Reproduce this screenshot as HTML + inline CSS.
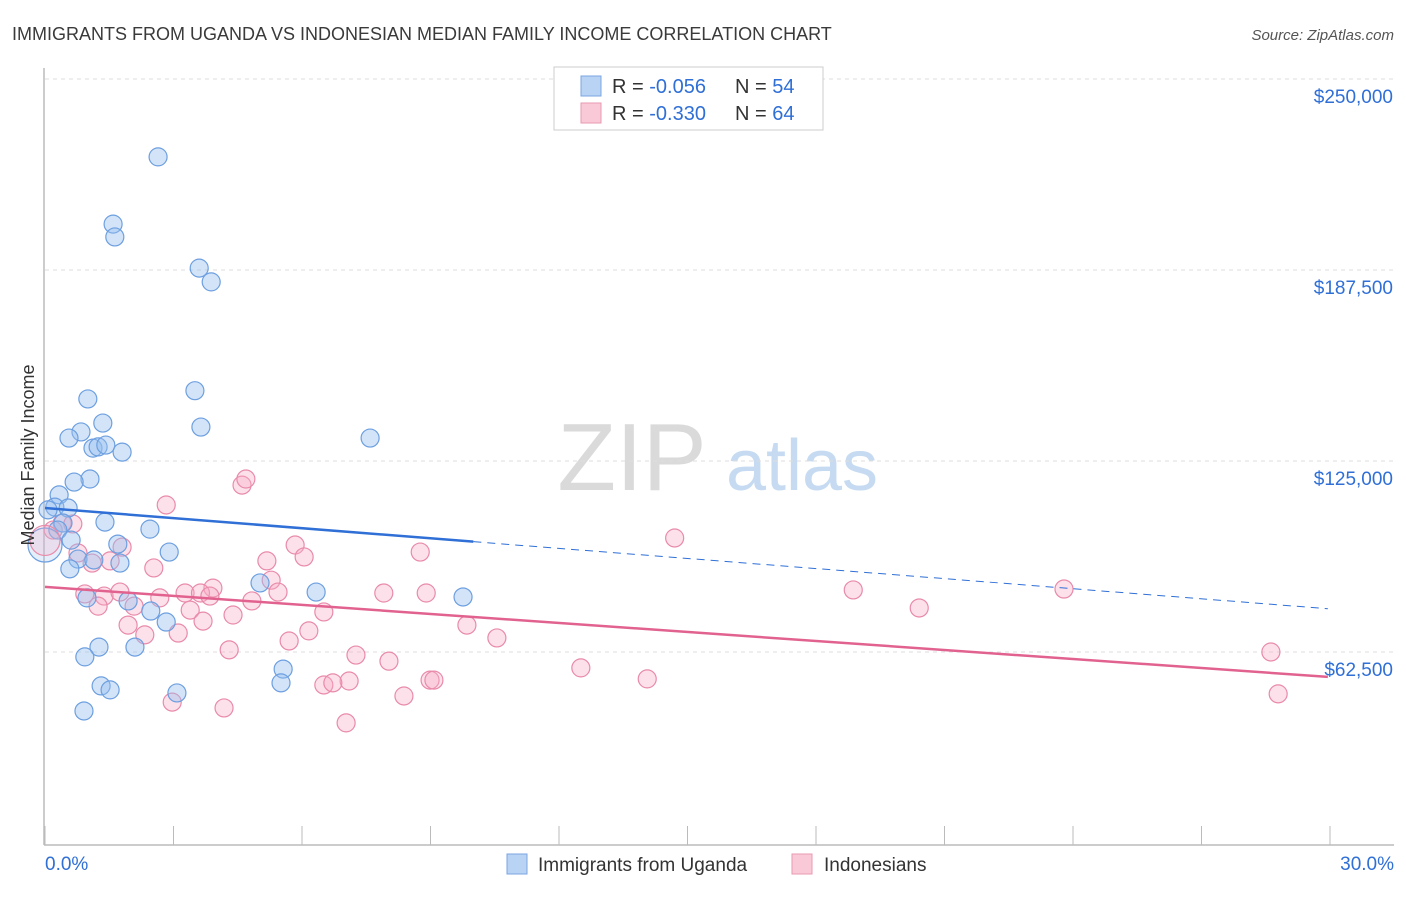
<!DOCTYPE html>
<html><head><meta charset="utf-8"><style>
body{margin:0;background:#fff;font-family:"Liberation Sans",sans-serif;}
svg text{font-family:"Liberation Sans",sans-serif;}
</style></head><body>
<svg id="chart" width="1406" height="892" viewBox="0 0 1406 892">
<text x="12" y="40" font-size="18" fill="#3a3a3a">IMMIGRANTS FROM UGANDA VS INDONESIAN MEDIAN FAMILY INCOME CORRELATION CHART</text>
<text x="1394" y="40" font-size="15" fill="#555" text-anchor="end" font-style="italic">Source: ZipAtlas.com</text>
<g>
<text x="632" y="490" font-size="96" fill="#dadada" text-anchor="middle" font-family="Liberation Serif, serif">ZIP</text>
<text x="802" y="490" font-size="72" fill="#c6dbf1" text-anchor="middle">atlas</text>
</g>
<g id="grid"></g>
<g id="axes"></g>
<g id="points"></g>
<g id="lines"></g>
<text transform="translate(34,455) rotate(-90)" font-size="18" fill="#333" text-anchor="middle">Median Family Income</text>
<g>
<rect x="554" y="67" width="269" height="63" fill="#fff" stroke="#ccc"/>
<rect x="581" y="76" width="20" height="20" fill="#b9d3f5" stroke="#7aa6e0"/>
<text x="612" y="93" font-size="20" fill="#333">R = <tspan fill="#2f6fd6">-0.056</tspan></text>
<text x="735" y="93" font-size="20" fill="#333">N = <tspan fill="#2f6fd6">54</tspan></text>
<rect x="581" y="103" width="20" height="20" fill="#f9c9d7" stroke="#e89ab2"/>
<text x="612" y="120" font-size="20" fill="#333">R = <tspan fill="#2f6fd6">-0.330</tspan></text>
<text x="735" y="120" font-size="20" fill="#333">N = <tspan fill="#2f6fd6">64</tspan></text>
</g>
<g>
<rect x="507" y="854" width="20" height="20" fill="#b9d3f5" stroke="#7aa6e0"/>
<text x="538" y="871" font-size="19" fill="#333">Immigrants from Uganda</text>
<rect x="792" y="854" width="20" height="20" fill="#f9c9d7" stroke="#e89ab2"/>
<text x="824" y="871" font-size="19" fill="#333">Indonesians</text>
</g>
</svg>
<script>
const yTicks=[62500,125000,187500,250000];
const yTickLabels=["$62,500","$125,000","$187,500","$250,000"];
const xTickCount=[0,3,6,9,12,15,18,21,24,27,30];
const xEndLabels=["0.0%","30.0%"];
const blueX=[2.64,1.59,1.63,3.60,3.88,3.50,1.00,3.64,1.35,0.84,0.56,7.59,1.12,1.24,1.42,1.80,1.05,0.68,0.33,0.23,0.07,0.54,0.42,1.40,2.45,0.30,0.61,1.70,2.90,0.77,1.14,1.75,0.58,5.02,6.33,9.76,0.98,1.94,2.47,2.83,1.26,2.10,0.93,5.56,1.31,1.52,3.08,5.51,0.91];
const blueY=[224.5,202.5,198.3,188.1,183.6,148.0,145.3,136.1,137.4,134.5,132.5,132.5,129.2,129.6,130.2,127.9,119.1,118.1,113.9,109.9,109.0,109.6,104.7,105.0,102.7,102.4,99.1,97.8,95.2,92.9,92.6,91.6,89.7,85.1,82.1,80.5,80.2,79.2,75.9,72.3,64.1,64.1,60.9,56.9,51.4,50.1,49.1,52.4,43.2];
const pinkX=[14.7,4.60,4.69,2.83,0.40,0.65,0.19,0.77,1.10,1.80,1.52,2.54,5.18,5.84,6.05,8.76,5.28,5.44,3.92,3.27,3.63,3.85,2.68,0.93,1.38,1.75,4.83,7.91,8.90,18.87,23.79,20.41,1.24,2.08,3.39,3.69,4.39,6.51,1.94,2.33,3.11,6.16,9.85,5.70,10.55,4.30,7.26,8.03,12.51,14.06,8.99,9.08,7.10,6.51,6.72,8.38,28.62,28.79,2.97,4.18,7.03];
const pinkY=[99.8,117.1,119.1,110.6,104.7,104.4,102.4,94.9,91.6,96.8,92.3,90.0,92.3,97.5,93.6,95.2,86.0,82.1,83.4,81.8,81.8,80.8,80.2,81.5,80.8,82.1,79.2,81.8,81.8,82.8,83.1,76.9,77.5,77.5,76.2,72.6,74.6,75.6,71.3,68.1,68.7,69.4,71.3,66.1,67.1,63.2,61.5,59.5,57.3,53.7,53.3,53.3,53.0,51.7,52.4,48.1,62.5,48.8,46.1,44.2,39.3];
const bigBlue=[0,97.5];
const bigPink=[0,99];
const blueTrend=[109.6,76.6];
const pinkTrend=[83.8,54.3];
const blueSolidEnd=10;
const NS="http://www.w3.org/2000/svg";
const sx=v=>45+v/30*1285;
const sy=k=>843-k/0.3272;
function mk(t,a,p){const e=document.createElementNS(NS,t);for(const k in a)e.setAttribute(k,a[k]);p.appendChild(e);return e;}
const grid=document.getElementById('grid'),axes=document.getElementById('axes'),pts=document.getElementById('points'),lines=document.getElementById('lines');
yTicks.forEach((v,i)=>{
 const y=sy(v/1000);
 const g=mk('line',{x1:45,x2:1394,y1:y,y2:y,stroke:'#ddd','stroke-dasharray':'4,4'},grid);
 
 
 const t=mk('text',{x:1393,y:y+24,'font-size':19,fill:'#2f6fd6','text-anchor':'end'},axes);
 t.textContent=yTickLabels[i];
 
 
});
const tg=mk('line',{x1:45,x2:1394,y1:79,y2:79,stroke:'#ddd','stroke-dasharray':'4,4'},grid);


const ya=mk('line',{x1:44,x2:44,y1:68,y2:845,stroke:'#bbb','stroke-width':1.5},axes);


const xa=mk('line',{x1:44,x2:1394,y1:845,y2:845,stroke:'#bbb','stroke-width':1.5},axes);


xTickCount.forEach(v=>{
 const t=mk('line',{x1:sx(v),x2:sx(v),y1:826,y2:845,stroke:'#bbb'},axes);
 
 
});
const xl0=mk('text',{x:45,y:870,'font-size':19,fill:'#2f6fd6'},axes);xl0.textContent=xEndLabels[0];


const xl1=mk('text',{x:1394,y:870,'font-size':19,fill:'#2f6fd6','text-anchor':'end'},axes);xl1.textContent=xEndLabels[1];


function dot(x,y,r,blue,op){
 const c=mk('circle',{cx:sx(x),cy:sy(y),r:r,fill:blue?'rgba(150,190,238,'+op+')':'rgba(246,172,196,'+(op*0.85)+')',stroke:blue?'#6d9fe0':'#e98aaa','stroke-width':1.2},pts);
 
 
}
pinkX.forEach((x,i)=>dot(x,pinkY[i],9,false,0.42));
blueX.forEach((x,i)=>dot(x,blueY[i],9,true,0.42));
dot(bigBlue[0],bigBlue[1],17,true,0.25);
dot(bigPink[0],bigPink[1],15,false,0.3);
const bAt=x=>blueTrend[0]+(blueTrend[1]-blueTrend[0])*x/30;
const pAt=x=>pinkTrend[0]+(pinkTrend[1]-pinkTrend[0])*x/30;
const b1=mk('line',{x1:sx(0),y1:sy(bAt(0)),x2:sx(blueSolidEnd),y2:sy(bAt(blueSolidEnd)),stroke:'#2f6fd6','stroke-width':2.5},lines);


const b2=mk('line',{x1:sx(blueSolidEnd),y1:sy(bAt(blueSolidEnd)),x2:sx(29.95),y2:sy(bAt(29.95)),stroke:'#2f6fd6','stroke-width':1,'stroke-dasharray':'8,6'},lines);


const p1=mk('line',{x1:sx(0),y1:sy(pAt(0)),x2:sx(29.95),y2:sy(pAt(29.95)),stroke:'#e2628f','stroke-width':2.5},lines);


</script>
</body></html>
